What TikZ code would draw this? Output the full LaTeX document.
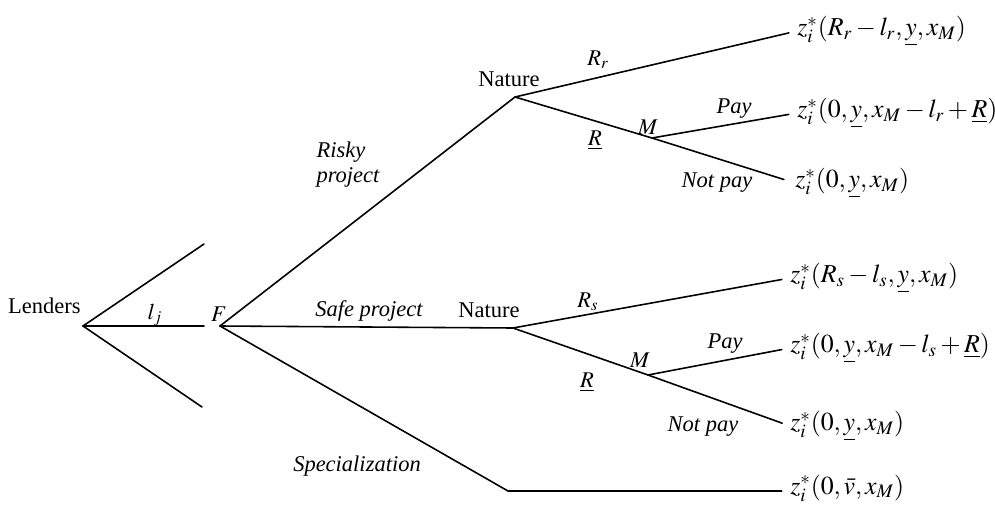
\documentclass[tikz,border=0pt]{standalone}
\usepackage{mathptmx}
\usepackage[no-math]{fontspec}
\setmainfont{Liberation Serif}
\begin{document}
\begin{tikzpicture}[x=0.6pt,y=-0.6pt,
  br/.style={line width=0.95pt, line cap=round},
  txt/.style={font=\fontsize{13.5}{15}\selectfont, inner sep=0pt},
  lab/.style={font=\itshape\fontsize{13.5}{15}\selectfont, inner sep=0pt},
  leaf/.style={anchor=west, inner sep=0pt, font=\fontsize{15.5}{17}\selectfont},
  toleaf/.style={br, shorten >=5pt}]
\useasboundingbox (0,0) rectangle (995,506);
% branch points
\coordinate (L) at (83,326);
\coordinate (Lu) at (204,244);
\coordinate (Lm) at (204,326);
\coordinate (Ld) at (202,407);
\coordinate (F) at (220,326);
\coordinate (N1) at (515,97);
\coordinate (N2) at (513,328);
\coordinate (M1) at (652,138);
\coordinate (M2) at (648,375);
\coordinate (S) at (508,491);
% leaves
\node[leaf] (A1) at (797,31) {$z_i^{*}(R_r-l_r,\underline{y},x_M)$};
\node[leaf] (A2) at (797,113) {$z_i^{*}(0,\underline{y},x_M-l_r+\underline{R})$};
\node[leaf] (A3) at (795,183) {$z_i^{*}(0,\underline{y},x_M)$};
\node[leaf] (B1) at (790,278) {$z_i^{*}(R_s-l_s,\underline{y},x_M)$};
\node[leaf] (B2) at (790,348) {$z_i^{*}(0,\underline{y},x_M-l_s+\underline{R})$};
\node[leaf] (B3) at (790,426) {$z_i^{*}(0,\underline{y},x_M)$};
\node[leaf] (C1) at (790,488) {$z_i^{*}(0,\bar{v},x_M)$};
% node labels
\node[txt, anchor=base east] (Len) at (81,313) {Lenders};
\node[txt, anchor=base] (Flab) at (219,321) {$F$};
\node[txt, anchor=base] (Nat1) at (509,86) {Nature};
\node[txt, anchor=base] (Nat2) at (489,317) {Nature};
% branches
\draw[br] (L) -- (Lu);
\draw[br] (L) -- (Lm);
\draw[br] (L) -- (Ld);
\draw[br] (F) -- (N1);
\draw[br] (F) -- (N2);
\draw[br] (F) -- (S);
\draw[toleaf] (N1) -- (A1.west);
\draw[br] (N1) -- (M1);
\draw[toleaf] (M1) -- (A2.west);
\draw[toleaf, shorten >=7pt] (M1) -- (A3.west);
\draw[toleaf] (N2) -- (B1.west);
\draw[br] (N2) -- (M2);
\draw[toleaf] (M2) -- (B2.west);
\draw[toleaf] (M2) -- (B3.west);
\draw[br, shorten >=5pt] (S) -- (C1.west |- S);
% edge labels
\node[txt] (lj) at (155,315) {$l_j$};
\node[lab, align=left] (risky) at (348,165) {Risky\\project};
\node[lab, anchor=base] (safe) at (369,316) {Safe project};
\node[lab] (spec) at (357,466) {Specialization};
\node[txt] (Rr) at (598,60) {$R_r$};
\node[txt] (Ma) at (648,127) {$M$};
\node[txt] (Ra) at (595,140) {$\underline{R}$};
\node[lab] (Pa) at (734,109) {Pay};
\node[lab] (NPa) at (717,183) {Not pay};
\node[txt] (Rs) at (588,302) {$R_s$};
\node[txt] (Mb) at (640,360) {$M$};
\node[txt] (Rb) at (587,382) {$\underline{R}$};
\node[lab] (Pb) at (725,344) {Pay};
\node[lab] (NPb) at (703,427) {Not pay};
\end{tikzpicture}
\end{document}
